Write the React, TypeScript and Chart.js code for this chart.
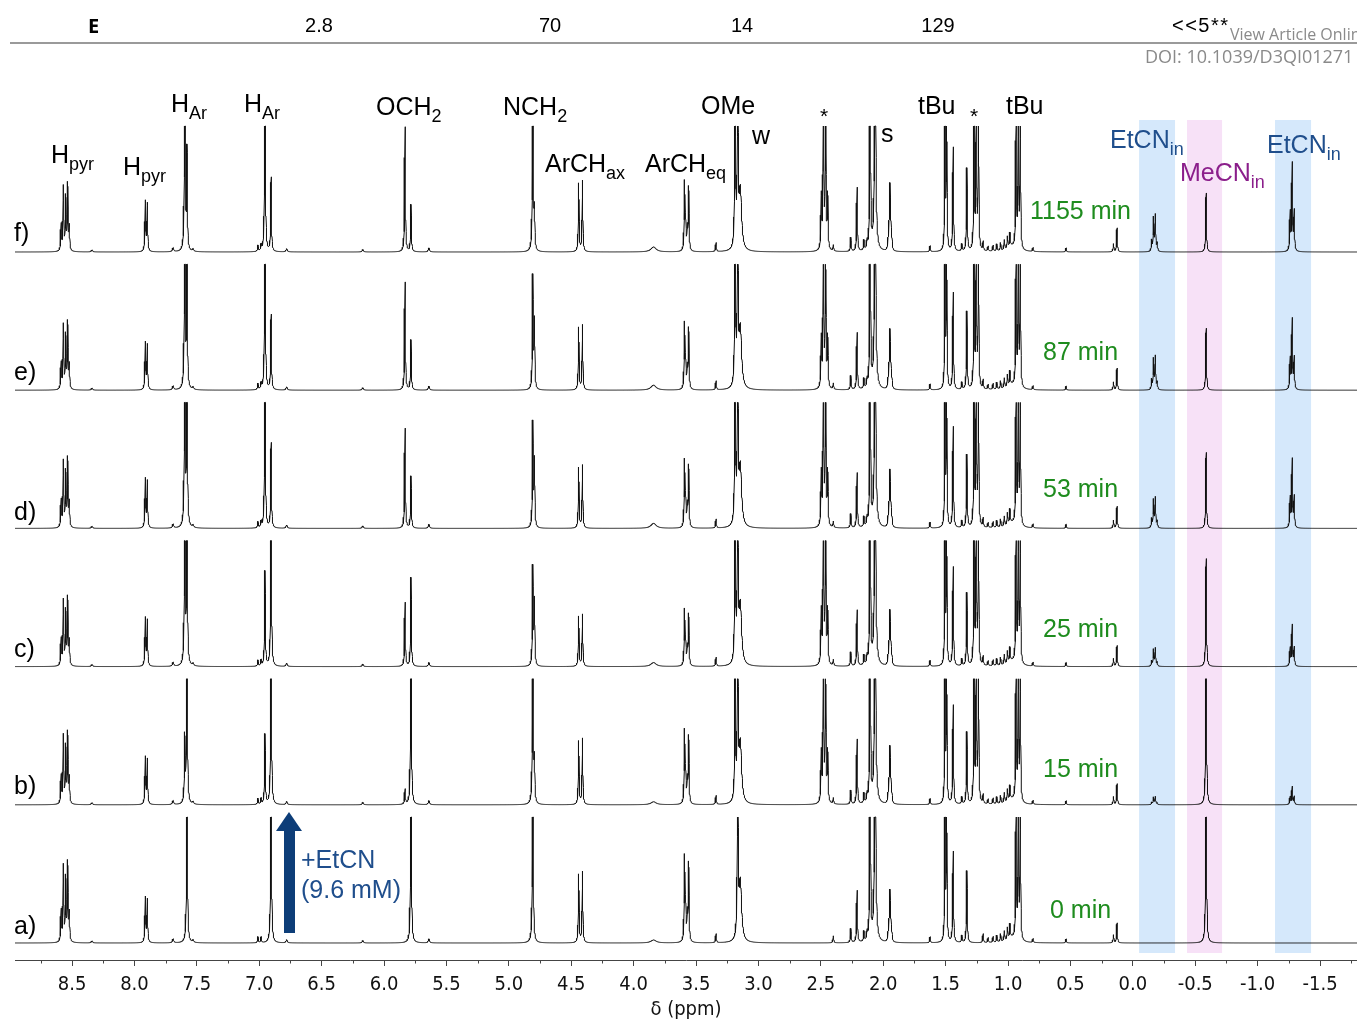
import React, { useEffect, useRef } from "react";
import { Chart, registerables } from "chart.js";

Chart.register(...registerables);

// ---- axis ----
const X_MIN = -1.796;
const X_MAX = 8.957;
const TICK_STEP = 0.5;
const MINOR_TICKS = [-1.75, -1.25, -0.75, -0.25, 0.25, 0.75, 1.25, 1.75, 2.25, 2.75, 3.25, 3.75, 4.25, 4.75, 5.25, 5.75, 6.25, 6.75, 7.25, 7.75, 8.25, 8.75];

// ---- spectra ----
const SPECTRA = ["a)", "b)", "c)", "d)", "e)", "f)"];
const TIMES = ["0 min", "15 min", "25 min", "53 min", "87 min", "1155 min"];

// highlighted regions (ppm from, ppm to)
const BAND_ETCN_1 = [-0.05, -0.338];
const BAND_MECN = [-0.434, -0.715];
const BAND_ETCN_2 = [-1.139, -1.428];

// signals: line positions (ppm), relative line intensities, half width (ppm)
const SIG_PPM: number[][] = [
  [8.588, 8.57, 8.551, 8.535, 8.522], // 0 Hpyr
  [7.913, 7.897], // 1 Hpyr
  [7.597], // 2 HAr (new)
  [7.579], // 3 HAr (old)
  [7.01, 6.985], // 4
  [6.954], // 5 HAr (new)
  [6.905], // 6 HAr (old)
  [5.832], // 7 OCH2 new
  [5.784], // 8 OCH2 old
  [4.808], // 9 NCH2
  [4.795], // 10 NCH2 shoulder
  [4.44, 4.41], // 11 ArCHax
  [3.84], // 12 broad bump
  [3.592, 3.583, 3.57, 3.559], // 13 ArCHeq
  [3.34], // 14
  [3.187], // 15 OMe new
  [3.166], // 16 OMe
  [3.145], // 17 water
  [2.497, 2.48, 2.462, 2.445], // 18 free EtCN CH2 *
  [2.4], // 19
  [2.26], // 20
  [2.21], // 21
  [2.155, 2.13], // 22
  [2.105], // 23
  [2.065], // 24 s
  [1.962, 1.954, 1.946, 1.938, 1.93], // 25 CD2HCN
  [1.625, 1.37, 1.2, 1.16, 1.12, 1.09, 1.06, 1.03, 1.005, 0.985], // 26 small
  [0.97], // 27 hump
  [1.505, 1.492], // 28 tBu
  [1.44], // 29
  [1.33], // 30
  [1.273, 1.255, 1.237], // 31 free EtCN CH3 *
  [0.936, 0.918, 0.902], // 32 tBu
  [0.8, 0.535], // 33
  [0.155], // 34
  [0.127], // 35
  [-0.151, -0.166, -0.18, -0.195], // 36 EtCN in CH2
  [-0.587], // 37 MeCN in
  [-1.26, -1.276, -1.292], // 38 EtCN in CH3
  [8.34, 7.69, 7.53, 6.78, 6.17, 5.64], // 39 tiny
];
const SIG_REL: number[][] = [
  [0.4, 0.97, 0.8, 1.0, 0.35],
  [1, 0.95],
  [1],
  [1],
  [1, 1],
  [1],
  [1],
  [1],
  [1],
  [1],
  [1],
  [0.96, 1],
  [1],
  [1, 0.35, 0.3, 0.93],
  [1],
  [1],
  [1],
  [1],
  [0.33, 1, 1, 0.33],
  [1],
  [1],
  [1],
  [1, 0.8],
  [1],
  [1],
  [0.12, 0.3, 1, 0.3, 0.12],
  [0.6, 0.7, 0.9, 0.5, 0.6, 0.7, 0.8, 1.0, 1.2, 1.4],
  [1],
  [1, 1],
  [1],
  [1],
  [0.8, 1, 0.8],
  [1, 1, 1],
  [1, 1],
  [1],
  [1],
  [0.3, 0.92, 1, 0.22],
  [1],
  [0.44, 1, 0.45],
  [0.5, 1, 0.6, 0.8, 0.6, 1],
];
const SIG_HWHM: number[] = [
  0.0035, 0.0035, 0.0035, 0.0035, 0.0035, 0.0035, 0.0035, 0.0035, 0.0035, 0.0035,
  0.0035, 0.0035, 0.025, 0.0035, 0.0035, 0.0035, 0.0035, 0.012, 0.0035, 0.0035,
  0.0035, 0.0035, 0.0035, 0.0035, 0.006, 0.0035, 0.0035, 0.04, 0.003, 0.0035,
  0.0035, 0.003, 0.003, 0.0035, 0.0035, 0.0035, 0.0035, 0.0035, 0.0035, 0.006,
];

// amplitudes of each signal, one array per spectrum
const AMP_A = [78, 45, 0, 220, 6, 0, 220, 0, 220, 220, 0, 71, 3, 84, 9, 0, 220, 60, 0, 7, 14, 52, 10, 220, 220, 48, 10, 5, 150, 91, 72, 0, 150, 4, 8, 20, 0, 220, 0, 4];
const AMP_B = [70, 47, 65, 220, 6, 70, 220, 15, 220, 200, 40, 66, 3, 72, 9, 150, 220, 60, 150, 6, 14, 65, 10, 220, 220, 53, 10, 5, 150, 99, 72, 200, 150, 4, 8, 21, 8, 200, 18, 4];
const AMP_C = [67, 48, 200, 200, 6, 95, 200, 64, 89, 98, 64, 52, 4, 55, 9, 200, 220, 60, 160, 6, 14, 56, 10, 220, 220, 51, 10, 5, 150, 99, 73, 200, 150, 4, 8, 21, 18, 108, 41, 4];
const AMP_D = [68, 49, 220, 200, 6, 200, 85, 100, 52, 104, 66, 63, 5, 66, 9, 220, 220, 60, 160, 6, 14, 55, 10, 220, 220, 53, 10, 5, 150, 101, 73, 200, 150, 4, 8, 22, 30, 76, 68, 4];
const AMP_E = [66, 47, 220, 150, 6, 220, 75, 108, 50, 112, 67, 65, 5, 65, 9, 220, 220, 60, 150, 6, 14, 57, 10, 220, 220, 55, 10, 5, 150, 97, 78, 200, 150, 4, 8, 22, 33, 62, 70, 4];
const AMP_F = [66, 50, 220, 100, 6, 220, 74, 125, 47, 200, 37, 71, 5, 68, 9, 220, 220, 60, 160, 6, 14, 64, 10, 220, 220, 62, 10, 5, 150, 104, 83, 200, 150, 4, 8, 24, 36, 59, 87, 4];
const AMPS = [AMP_A, AMP_B, AMP_C, AMP_D, AMP_E, AMP_F];

// layout constants
const OFFSET_STEP = 138.2;
const CLIP = 126;
const GRID_STEP = 0.002;

function buildGrid(): number[] {
  const pts: number[] = [];
  const n = Math.ceil((X_MAX - X_MIN) / GRID_STEP);
  for (let i = 0; i <= n; i++) pts.push(X_MIN + i * GRID_STEP);
  SIG_PPM.forEach((lines) => lines.forEach((p) => pts.push(p)));
  pts.sort((a, b) => a - b);
  const out: number[] = [];
  for (const p of pts) if (!out.length || p - out[out.length - 1] > 1e-6) out.push(p);
  return out;
}

function buildSpectrum(grid: number[], amps: number[], k: number) {
  return grid.map((x) => {
    let s = 0;
    for (let i = 0; i < SIG_PPM.length; i++) {
      const a = amps[i];
      if (!a) continue;
      const w = SIG_HWHM[i];
      const lines = SIG_PPM[i];
      const rel = SIG_REL[i];
      for (let j = 0; j < lines.length; j++) {
        const d = (x - lines[j]) / w;
        s += (a * rel[j]) / (1 + d * d);
      }
    }
    return { x, y: k * OFFSET_STEP + Math.min(CLIP, s) };
  });
}

const bandPlugin = {
  id: "bands",
  beforeDatasetsDraw(chart: any) {
    const { ctx, scales } = chart;
    const xs = scales.x;
    const draw = (r: number[], color: string) => {
      const x1 = xs.getPixelForValue(r[0]);
      const x2 = xs.getPixelForValue(r[1]);
      ctx.save();
      ctx.fillStyle = color;
      ctx.fillRect(Math.min(x1, x2), 120, Math.abs(x2 - x1), 833);
      ctx.restore();
    };
    draw(BAND_ETCN_1, "rgb(213,232,251)");
    draw(BAND_MECN, "rgb(247,225,247)");
    draw(BAND_ETCN_2, "rgb(213,232,251)");
  },
};

const minorTickPlugin = {
  id: "minorTicks",
  afterDraw(chart: any) {
    const { ctx, scales, chartArea } = chart;
    const xs = scales.x;
    ctx.save();
    ctx.strokeStyle = "#444";
    ctx.lineWidth = 1;
    ctx.beginPath();
    for (const v of MINOR_TICKS) {
      const px = Math.round(xs.getPixelForValue(v)) + 0.5;
      ctx.moveTo(px, chartArea.bottom);
      ctx.lineTo(px, chartArea.bottom + 3.5);
    }
    ctx.stroke();
    ctx.restore();
  },
};

type LblProps = { x: number; y: number; main: string; sub?: string; color?: string; size?: number };
function Lbl({ x, y, main, sub, color = "#000", size = 25 }: LblProps) {
  return (
    <div
      style={{
        position: "absolute",
        left: x,
        top: y - 0.8465 * size,
        fontFamily: "'Liberation Sans', Arial, sans-serif",
        fontSize: size,
        lineHeight: `${size}px`,
        whiteSpace: "nowrap",
        color,
      }}
    >
      {main}
      {sub ? (
        <span style={{ fontSize: Math.round(size * 0.72), position: "relative", top: Math.round(size * 0.27) }}>{sub}</span>
      ) : null}
    </div>
  );
}

const GREEN = "#1e8c1e";
const BLUE = "#1f4e8c";
const PURPLE = "#8b1e8b";

export default function App() {
  const ref = useRef<HTMLCanvasElement | null>(null);
  useEffect(() => {
    if (!ref.current) return;
    const grid = buildGrid();
    const datasets = AMPS.map((amps, k) => ({
      label: SPECTRA[k],
      data: buildSpectrum(grid, amps, k),
      borderColor: "#111",
      borderWidth: 1,
      pointRadius: 0,
      tension: 0,
      fill: false,
    }));
    const chart = new Chart(ref.current, {
      type: "line",
      data: { datasets },
      options: {
        animation: false,
        responsive: false,
        events: [],
        parsing: false,
        normalized: true,
        layout: { padding: { top: 60, left: 15, right: 0, bottom: 0 } },
        plugins: { legend: { display: false }, tooltip: { enabled: false } },
        scales: {
          x: {
            type: "linear",
            reverse: true,
            min: X_MIN,
            max: X_MAX,
            afterFit: (s: any) => {
              s.height = 63;
            },
            ticks: {
              stepSize: TICK_STEP,
              includeBounds: false,
              autoSkip: false,
              maxRotation: 0,
              padding: 7,
              color: "#111",
              font: { family: "'DejaVu Sans Condensed', 'DejaVu Sans', sans-serif", size: 20 },
              callback: (v: any) => (Math.abs(Number(v)) < 1e-9 ? "0.0" : Number(v).toFixed(1)),
            },
            grid: { drawOnChartArea: false, drawTicks: true, tickLength: 6, color: "#444" },
            border: { display: true, color: "#444", width: 1 },
            title: {
              display: true,
              text: "δ (ppm)",
              color: "#111",
              font: { family: "'DejaVu Sans Condensed', 'DejaVu Sans', sans-serif", size: 20 },
              padding: { top: 0, bottom: 1 },
            },
          },
          y: { display: false, min: -17, max: 883 },
        },
      } as any,
      plugins: [bandPlugin, minorTickPlugin],
    });
    return () => chart.destroy();
  }, []);

  const baseY = [934, 794, 657, 520, 380, 241];
  const timeY = [918, 777, 637, 497, 360, 219];
  const timeX = [1050, 1043, 1043, 1043, 1043, 1030];

  return (
    <div style={{ position: "absolute", left: 0, top: 0, width: 1357, height: 1023, overflow: "hidden", background: "#fff" }}>
      <canvas ref={ref} width={1357} height={1023} style={{ position: "absolute", left: 0, top: 0, width: 1357, height: 1023 }} />

      {/* header strip */}
      <div style={{ position: "absolute", left: 88, top: 13, fontFamily: "'Open Sans', sans-serif", fontWeight: 700, fontSize: 20, lineHeight: "26px" }}>E</div>
      {[
        ["2.8", 319],
        ["70", 550],
        ["14", 742],
        ["129", 938],
      ].map(([t, cx]) => (
        <div key={t as string} style={{ position: "absolute", left: (cx as number) - 50, width: 100, textAlign: "center", top: 13, fontFamily: "'Liberation Sans', Arial, sans-serif", fontSize: 20, lineHeight: "24px" }}>
          {t}
        </div>
      ))}
      <div style={{ position: "absolute", left: 1172, top: 13, fontFamily: "'Liberation Sans', Arial, sans-serif", fontSize: 20, lineHeight: "24px", letterSpacing: 1.5 }}>&lt;&lt;5**</div>
      <div style={{ position: "absolute", left: 1230, top: 25, fontFamily: "'Open Sans', sans-serif", fontSize: 16, lineHeight: "19px", color: "#8a8a8a", whiteSpace: "nowrap" }}>View Article Online</div>
      <div style={{ position: "absolute", left: 10, top: 42, width: 1347, height: 1.5, background: "#9a9a9a" }} />
      <div style={{ position: "absolute", left: 1145, top: 45, fontFamily: "'Open Sans', sans-serif", fontSize: 18, lineHeight: "22px", color: "#8a8a8a", whiteSpace: "nowrap" }}>DOI: 10.1039/D3QI01271</div>

      {/* peak labels */}
      <Lbl x={51} y={163} main="H" sub="pyr" />
      <Lbl x={123} y={175} main="H" sub="pyr" />
      <Lbl x={171} y={112} main="H" sub="Ar" />
      <Lbl x={244} y={112} main="H" sub="Ar" />
      <Lbl x={376} y={115} main="OCH" sub="2" />
      <Lbl x={503} y={115} main="NCH" sub="2" />
      <Lbl x={545} y={172} main="ArCH" sub="ax" />
      <Lbl x={645} y={172} main="ArCH" sub="eq" />
      <Lbl x={701} y={114} main="OMe" />
      <Lbl x={752} y={144} main="w" />
      <Lbl x={820} y={123} main="*" size={21} />
      <Lbl x={881} y={142} main="s" />
      <Lbl x={918} y={114} main="tBu" />
      <Lbl x={970} y={123} main="*" size={21} />
      <Lbl x={1006} y={114} main="tBu" />
      <Lbl x={1110} y={148} main="EtCN" sub="in" color={BLUE} />
      <Lbl x={1180} y={181} main="MeCN" sub="in" color={PURPLE} />
      <Lbl x={1267} y={153} main="EtCN" sub="in" color={BLUE} />

      {SPECTRA.map((s, k) => (
        <Lbl key={s} x={14} y={baseY[k]} main={s} />
      ))}
      {TIMES.map((t, k) => (
        <Lbl key={t} x={timeX[k]} y={timeY[k]} main={t} color={GREEN} />
      ))}

      {/* EtCN addition arrow */}
      <svg width={1357} height={1023} style={{ position: "absolute", left: 0, top: 0, pointerEvents: "none" }}>
        <rect x={284} y={828} width={11} height={105} fill="#0d3d78" />
        <polygon points="276,831 302,831 289,812" fill="#0d3d78" />
      </svg>
      <Lbl x={301} y={868} main="+EtCN" color={BLUE} />
      <Lbl x={301} y={898} main="(9.6 mM)" color={BLUE} />
    </div>
  );
}
